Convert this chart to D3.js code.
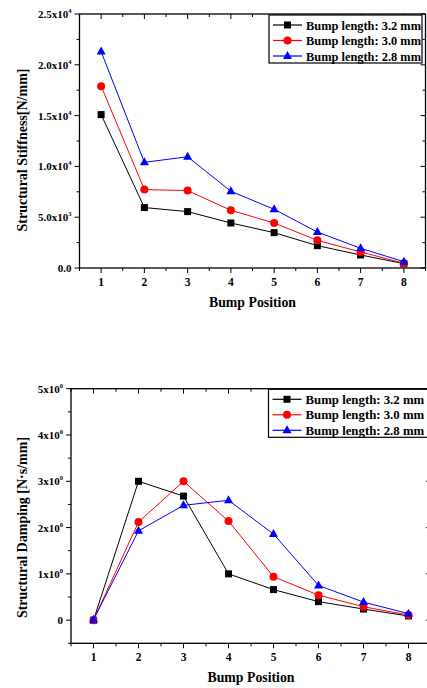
<!DOCTYPE html>
<html><head><meta charset="utf-8">
<script src="https://cdn.jsdelivr.net/npm/d3@7"></script>
<style>
body{margin:0;background:#fff;}
text{font-family:"Liberation Serif","Times New Roman",serif;font-weight:bold;fill:#000;}
</style></head>
<body>
<script>
const positions = [1,2,3,4,5,6,7,8];
const seriesNames = ["Bump length: 3.2 mm","Bump length: 3.0 mm","Bump length: 2.8 mm"];
const seriesColors = ["#000000","#ff0000","#0000ff"];
const seriesShapes = ["square","circle","triangle"];
const stiff32 = [15100,5950,5550,4430,3480,2200,1280,430];
const stiff30 = [17900,7720,7620,5680,4430,2720,1580,470];
const stiff28 = [21300,10400,10950,7550,5780,3540,1940,620];
const damp32 = [0,3.0,2.68,1.0,0.66,0.40,0.24,0.09];
const damp30 = [0,2.12,3.0,2.14,0.94,0.54,0.29,0.11];
const damp28 = [0.01,1.93,2.48,2.59,1.86,0.75,0.39,0.14];
const stiffTicks = [[0,"0.0",""],[5000,"5.0x10","3"],[10000,"1.0x10","4"],[15000,"1.5x10","4"],[20000,"2.0x10","4"],[25000,"2.5x10","4"]];
const dampTicks = [[0,"0",""],[1,"1x10","0"],[2,"2x10","0"],[3,"3x10","0"],[4,"4x10","0"],[5,"5x10","0"]];

const svg = d3.select("body").append("svg").attr("width",427).attr("height",688);

function panel(cfg){
  const x = d3.scaleLinear().domain([0.5,8.5]).range([cfg.left,cfg.right]);
  const y = d3.scaleLinear().domain(cfg.ydom).range([cfg.bottom,cfg.top]);
  const g = svg.append("g");
  g.append("rect").attr("x",cfg.left).attr("y",cfg.top).attr("width",cfg.right-cfg.left).attr("height",cfg.bottom-cfg.top)
    .attr("fill","none").attr("stroke","#000").attr("stroke-width",1.3);
  const minorX = d3.range(0.5,8.51,0.5);
  const minorY = d3.range(cfg.ydom[0],cfg.ydom[1]+1e-9,cfg.ymin);
  minorX.forEach(v=>{
    const major = Number.isInteger(v);
    const len = major?5:3;
    g.append("line").attr("x1",x(v)).attr("x2",x(v)).attr("y1",cfg.bottom).attr("y2",cfg.bottom+len).attr("stroke","#000");
    g.append("line").attr("x1",x(v)).attr("x2",x(v)).attr("y1",cfg.top).attr("y2",cfg.top+len).attr("stroke","#000");
  });
  minorY.forEach(v=>{
    const major = Math.abs(v/cfg.ymaj-Math.round(v/cfg.ymaj))<1e-6;
    const len = major?5:3;
    g.append("line").attr("y1",y(v)).attr("y2",y(v)).attr("x1",cfg.left).attr("x2",cfg.left-len).attr("stroke","#000");
    g.append("line").attr("y1",y(v)).attr("y2",y(v)).attr("x1",cfg.right).attr("x2",cfg.right-len).attr("stroke","#000");
  });
  positions.forEach(p=>{
    g.append("text").attr("x",x(p)).attr("y",cfg.bottom+17.5).attr("text-anchor","middle").style("font-size","11.5px").text(p);
  });
  cfg.ticks.forEach(t=>{
    const tx = g.append("text").attr("x",cfg.left-8).attr("y",y(t[0])+4).attr("text-anchor","end").style("font-size","11px");
    tx.append("tspan").text(t[1]);
    if(t[2]) tx.append("tspan").attr("dy",-5).style("font-size","6.5px").text(t[2]);
  });
  g.append("text").attr("x",(cfg.left+cfg.right)/2).attr("y",cfg.xtitleY).attr("text-anchor","middle").style("font-size","13.8px").text("Bump Position");
  g.append("text").attr("transform",`translate(${cfg.ytitleX},${cfg.ytitleY}) rotate(-90)`).attr("text-anchor","middle").style("font-size","14px").text(cfg.ytitle);
  const line = d3.line().x((d,i)=>x(positions[i])).y(d=>y(d));
  cfg.data.forEach((arr,si)=>{
    g.append("path").attr("d",line(arr)).attr("fill","none").attr("stroke",seriesColors[si]).attr("stroke-width",1);
    arr.forEach((v,i)=>marker(g,seriesShapes[si],x(positions[i]),y(v),seriesColors[si]));
  });
  const L = cfg.legend;
  g.append("rect").attr("x",L.x).attr("y",L.y).attr("width",L.w).attr("height",L.h).attr("fill","#fff").attr("stroke","#000").attr("stroke-width",1.2);
  seriesNames.forEach((n,si)=>{
    const yy = L.y+L.row0+si*L.dy;
    g.append("line").attr("x1",L.x+4).attr("x2",L.x+33).attr("y1",yy).attr("y2",yy).attr("stroke",seriesColors[si]).attr("stroke-width",1.2);
    marker(g,seriesShapes[si],L.x+18.5,yy,seriesColors[si]);
    g.append("text").attr("x",L.x+37).attr("y",yy+4.5).style("font-size",L.fs+"px").text(n);
  });
}
function marker(g,shape,cx,cy,col){
  if(shape==="square") g.append("rect").attr("x",cx-3.5).attr("y",cy-3.5).attr("width",7).attr("height",7).attr("fill",col);
  else if(shape==="circle") g.append("circle").attr("cx",cx).attr("cy",cy).attr("r",4).attr("fill",col);
  else g.append("path").attr("d",`M${cx},${cy-5}L${cx+4.5},${cy+3}L${cx-4.5},${cy+3}Z`).attr("fill",col);
}

panel({left:79.5,right:425.5,top:14,bottom:268,ydom:[0,25000],ymin:2500,ymaj:5000,ticks:stiffTicks,
  xtitleY:307,ytitleX:27,ytitleY:150,ytitle:"Structural Stiffness[N/mm]",
  data:[stiff32,stiff30,stiff28],
  legend:{x:269,y:15,w:153,h:48,row0:10,dy:15.5,fs:12.4}});
panel({left:71,right:431,top:388.7,bottom:643.3,ydom:[-0.5,5],ymin:0.5,ymaj:1,ticks:dampTicks,
  xtitleY:682,ytitleX:27,ytitleY:527.5,ytitle:"Structural Damping [N·s/mm]",
  data:[damp32,damp30,damp28],
  legend:{x:268.5,y:389.3,w:160,h:48,row0:10,dy:15.5,fs:12.8}});
</script>
</body></html>
